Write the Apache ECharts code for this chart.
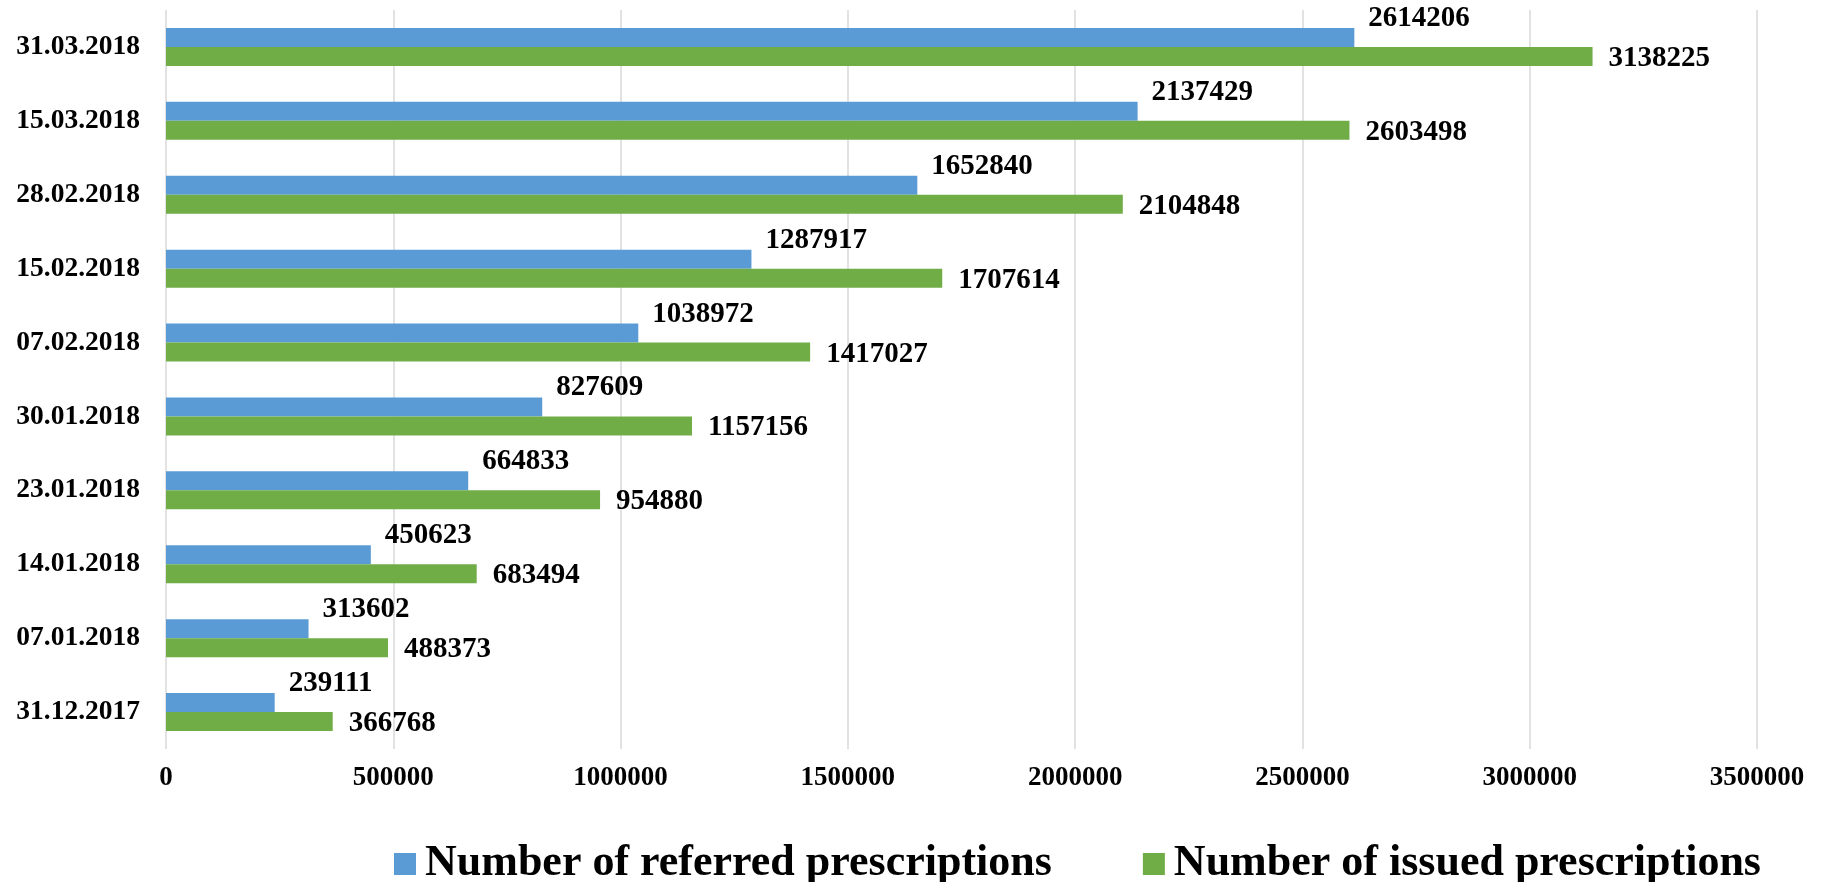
<!DOCTYPE html>
<html>
<head>
<meta charset="utf-8">
<script src="https://cdn.jsdelivr.net/npm/echarts@6/dist/echarts.min.js"></script>
<style>
html,body{margin:0;padding:0;background:#fff;}
#chart{width:1824px;height:882px;}
</style>
</head>
<body>
<div id="chart"></div>
<script>
const categories = ['31.03.2018','15.03.2018','28.02.2018','15.02.2018','07.02.2018','30.01.2018','23.01.2018','14.01.2018','07.01.2018','31.12.2017'];
const referred = [2614206,2137429,1652840,1287917,1038972,827609,664833,450623,313602,239111];
const issued = [3138225,2603498,2104848,1707614,1417027,1157156,954880,683494,488373,366768];
const seriesNames = ['Number of referred prescriptions','Number of issued prescriptions'];
const xTicks = [0,500000,1000000,1500000,2000000,2500000,3000000,3500000];

const FONT = 'Liberation Serif';
const chart = echarts.init(document.getElementById('chart'));
chart.setOption({
  animation:false,
  backgroundColor:'#fff',
  grid:{left:166,right:67,top:10,bottom:133,containLabel:false},
  legend:{
    data:seriesNames,
    left:389, top:837,
    itemWidth:22, itemHeight:22, itemGap:91,
    icon:'rect',
    textStyle:{fontFamily:FONT,fontWeight:'bold',fontSize:44,color:'#000',padding:[0,0,0,4]}
  },
  xAxis:{
    type:'value', min:xTicks[0], max:xTicks[xTicks.length-1], interval:500000,
    axisLine:{show:false}, axisTick:{show:false},
    splitLine:{show:true,lineStyle:{color:'#d9d9d9',width:1.5}},
    axisLabel:{fontFamily:FONT,fontWeight:'bold',fontSize:27,color:'#000',margin:16,
      formatter:function(v){return String(v);}}
  },
  yAxis:{
    type:'category', data:categories, inverse:true,
    axisLine:{show:false}, axisTick:{show:false},
    axisLabel:{fontFamily:FONT,fontWeight:'bold',fontSize:27.5,color:'#000',margin:26}
  },
  series:[
    {name:seriesNames[0],type:'bar',data:referred,barWidth:19,barGap:'0%',
     itemStyle:{color:'#5B9BD5'},
     label:{show:true,position:'right',distance:14,offset:[0,-19],fontFamily:FONT,fontWeight:'bold',fontSize:29,color:'#000'}},
    {name:seriesNames[1],type:'bar',data:issued,barWidth:19,barGap:'0%',
     itemStyle:{color:'#70AD47'},
     label:{show:true,position:'right',distance:16,offset:[0,2],fontFamily:FONT,fontWeight:'bold',fontSize:29,color:'#000'}}
  ]
});
</script>
</body>
</html>
